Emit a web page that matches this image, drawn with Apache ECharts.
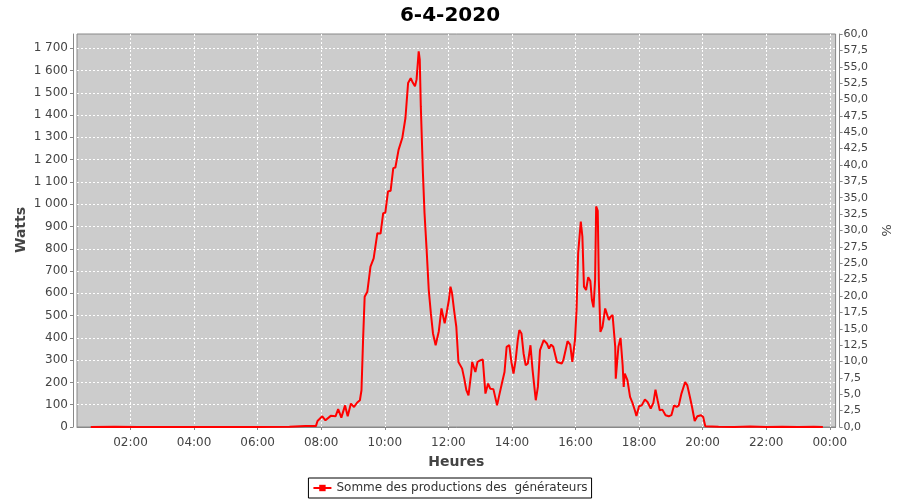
<!DOCTYPE html>
<html>
<head>
<meta charset="utf-8">
<script src="https://cdn.jsdelivr.net/npm/echarts@6/dist/echarts.min.js"></script>
<style>html,body{margin:0;padding:0;background:#fff}#c{width:900px;height:500px}</style>
</head>
<body>
<div id="c"></div>
<script>
var titleText = "6-4-2020";
var seriesName = "Somme des productions des  générateurs";
var leftAxisName = "Watts";
var times = [
"00:45","01:30","02:15","03:00","04:00","05:00","06:00","07:00","07:30","07:50",
"07:53","08:02","08:08","08:18","08:27","08:32","08:38","08:45","08:50","08:56",
"09:02","09:08","09:13","09:16","09:19","09:22","09:27","09:33","09:39","09:46",
"09:52","09:57","10:01","10:06","10:11","10:16","10:20","10:26","10:33","10:39",
"10:44","10:49","10:53","10:57","11:00","11:04","11:06","11:08","11:12","11:15",
"11:19","11:23","11:27","11:31","11:36","11:39","11:42","11:47","11:49","11:53",
"11:57","12:01","12:04","12:07","12:11","12:15","12:19","12:26","12:30","12:34",
"12:38","12:43","12:45","12:48","12:51","12:55","13:01","13:05","13:10","13:15",
"13:19","13:25","13:32","13:36","13:41","13:46","13:50","13:55","13:59","14:03",
"14:07","14:11","14:14","14:18","14:22","14:26","14:30","14:35","14:39","14:45",
"14:49","14:53","15:00","15:06","15:10","15:14","15:18","15:25","15:34","15:37",
"15:42","15:45","15:50","15:54","15:57","15:59","16:02","16:05","16:10","16:13",
"16:16","16:20","16:24","16:28","16:31","16:34","16:37","16:39","16:42","16:44",
"16:47","16:51","16:56","16:59","17:03","17:06","17:10","17:15","17:16","17:18",
"17:21","17:25","17:29","17:31","17:33","17:38","17:43","17:47","17:52","17:55",
"18:00","18:05","18:11","18:16","18:22","18:27","18:31","18:35","18:39","18:44",
"18:50","18:56","19:01","19:06","19:11","19:15","19:20","19:27","19:31","19:36",
"19:40","19:45","19:50","19:57","20:01","20:05","20:30","21:00","21:30","22:00","22:30","23:00","23:30","23:47"
];
var watts = [
0,1,0,0,0,0,0,1,4,4,
27,48,30,50,48,80,42,97,48,105,
90,110,120,165,390,585,607,720,757,870,
868,960,962,1057,1060,1162,1165,1244,1297,1387,
1544,1566,1545,1529,1560,1686,1649,1439,1139,960,
795,615,510,420,367,372,430,532,530,465,
515,570,630,600,520,450,292,262,217,165,
142,240,292,285,247,292,300,303,150,195,
172,170,97,142,195,247,360,367,292,240,
300,390,435,420,330,277,285,367,255,120,
180,345,390,375,352,370,360,292,285,300,
352,385,370,292,300,390,525,780,922,855,
630,615,672,655,570,537,660,990,970,660,
427,450,532,540,480,495,502,360,217,225,
360,400,277,180,240,210,135,112,75,50,
93,97,123,112,83,108,168,120,75,78,
53,48,53,97,90,97,150,202,187,135,
90,27,48,53,45,3,1,0,2,0,1,0,1,0
];
var xTickMinutes = [120,240,360,480,600,720,840,960,1080,1200,1320,1440];
var leftTicks = [0,100,200,300,400,500,600,700,800,900,1000,1100,1200,1300,1400,1500,1600,1700];
var leftMax = 1764, rightMax = 60;

function toMin(s){var p=s.split(':');return (+p[0])*60+(+p[1]);}
function fmtTime(v){var h=Math.floor(v/60)%24,m=Math.round(v%60);return (h<10?'0':'')+h+':'+(m<10?'0':'')+m;}
var data = times.map(function(t,i){return [toMin(t), watts[i]];});

var FF = 'DejaVu Sans';
var chart = echarts.init(document.getElementById('c'), null, {renderer:'canvas'});
chart.setOption({
  animation:false,
  backgroundColor:'#fff',
  title:{text:titleText,left:'center',top:1,textStyle:{fontFamily:FF,fontSize:20,fontWeight:'bold',color:'#000'}},
  graphic:[{type:'text',x:21,y:230,rotation:Math.PI/2,silent:true,
    style:{text:leftAxisName,fontFamily:FF,fontSize:14,fontWeight:'bold',fill:'#444',align:'center',verticalAlign:'middle'}}],
  grid:{left:77,right:62,top:34,bottom:73,show:true,backgroundColor:'#cccccc',borderColor:'#888',borderWidth:1},
  legend:{bottom:2,left:'center',borderColor:'#000',borderWidth:1,borderRadius:0,backgroundColor:'#fff',padding:[4,4],itemWidth:18,itemHeight:8,
    textStyle:{fontFamily:FF,fontSize:12,color:'#333'},data:[seriesName]},
  xAxis:{type:'value',min:19,max:1451,offset:4,name:'Heures',nameLocation:'middle',nameGap:24,
    nameTextStyle:{fontFamily:FF,fontSize:14,fontWeight:'bold',color:'#444'},
    axisLine:{show:true,lineStyle:{color:'#888'}},
    axisTick:{show:true,length:3,lineStyle:{color:'#888'},customValues:xTickMinutes},
    axisLabel:{customValues:xTickMinutes,formatter:function(v){return fmtTime(v);},fontFamily:FF,fontSize:12,color:'#444',margin:6},
    splitLine:{show:true,lineStyle:{color:'#fff',type:[2,2],width:1}}},
  yAxis:[
    {type:'value',min:0,max:leftMax,offset:4,
     axisLine:{show:true,lineStyle:{color:'#888'}},
     axisTick:{show:true,length:3,lineStyle:{color:'#888'},customValues:leftTicks},
     axisLabel:{customValues:leftTicks,fontFamily:FF,fontSize:12,color:'#444',margin:5,formatter:function(v){
        var s=String(v); if(v>=1000) s=s.slice(0,s.length-3)+' '+s.slice(-3); return s;}},
     splitLine:{show:true,lineStyle:{color:'#fff',type:[2,2],width:1}}},
    {type:'value',min:0,max:rightMax,interval:2.5,offset:4,position:'right',name:'%',nameLocation:'middle',nameGap:36,nameRotate:-90,
     nameTextStyle:{fontFamily:FF,fontSize:13,color:'#444'},
     axisLine:{show:true,lineStyle:{color:'#888'}},
     axisTick:{show:true,length:3,lineStyle:{color:'#888'}},
     axisLabel:{fontFamily:FF,fontSize:11,color:'#444',margin:4,formatter:function(v){return v.toFixed(1).replace('.',',');}},
     splitLine:{show:false}}
  ],
  series:[{name:seriesName,type:'line',yAxisIndex:0,data:data,showSymbol:false,symbol:'rect',symbolSize:4,
    lineStyle:{color:'#ff0000',width:2},itemStyle:{color:'#ff0000'}}]
});
</script>
</body>
</html>
